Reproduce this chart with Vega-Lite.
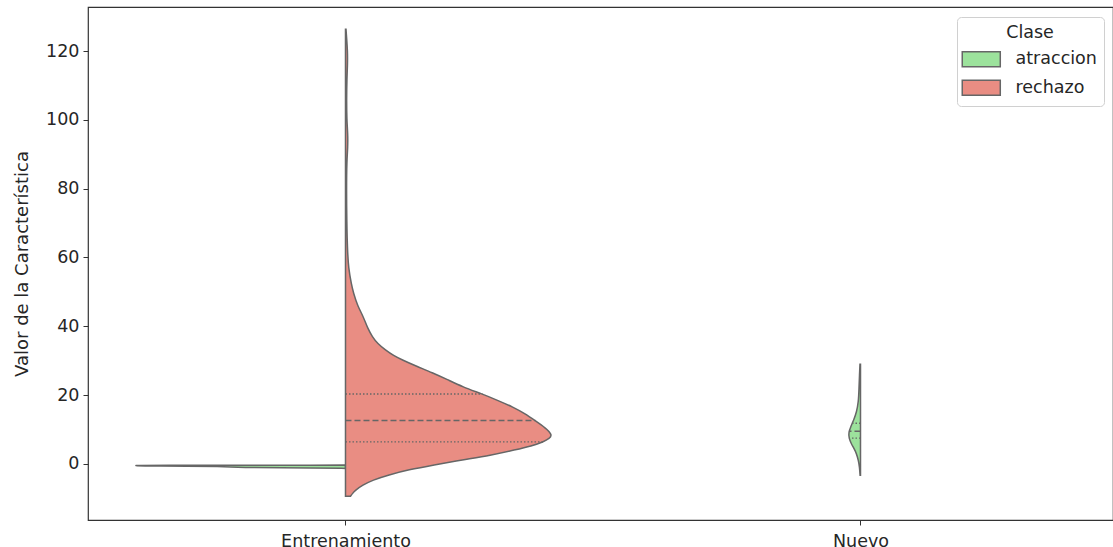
{
  "$schema": "https://vega.github.io/schema/vega-lite/v6.json",
  "autosize": {"type": "none"},
  "padding": {"left": 88, "top": 7, "right": 0, "bottom": 27},
  "width": 1025,
  "height": 513,
  "background": "white",
  "config": {
    "font": "DejaVu Sans",
    "view": {"stroke": "#333333", "strokeWidth": 1.2},
    "axis": {"labelFont": "DejaVu Sans", "titleFont": "DejaVu Sans", "labelColor": "#262626", "titleColor": "#262626", "tickColor": "#333333", "grid": false, "domain": false}
  },
  "datasets": {
    "violin": [
      {"grupo": "Entrenamiento", "clase": "atraccion", "valor": -1.3, "densidad": 0.0},
      {"grupo": "Entrenamiento", "clase": "atraccion", "valor": -1.2, "densidad": 0.05},
      {"grupo": "Entrenamiento", "clase": "atraccion", "valor": -1.05, "densidad": 0.223},
      {"grupo": "Entrenamiento", "clase": "atraccion", "valor": -0.75, "densidad": 0.223},
      {"grupo": "Entrenamiento", "clase": "atraccion", "valor": -0.6, "densidad": 0.38},
      {"grupo": "Entrenamiento", "clase": "atraccion", "valor": -0.5, "densidad": 0.41},
      {"grupo": "Entrenamiento", "clase": "atraccion", "valor": -0.42, "densidad": 0.41},
      {"grupo": "Entrenamiento", "clase": "atraccion", "valor": -0.35, "densidad": 0.0},
      {"grupo": "Entrenamiento", "clase": "rechazo", "valor": -9.4, "densidad": 0.0097},
      {"grupo": "Entrenamiento", "clase": "rechazo", "valor": -8.6, "densidad": 0.0136},
      {"grupo": "Entrenamiento", "clase": "rechazo", "valor": -7.6, "densidad": 0.0194},
      {"grupo": "Entrenamiento", "clase": "rechazo", "valor": -6.2, "densidad": 0.033},
      {"grupo": "Entrenamiento", "clase": "rechazo", "valor": -4.7, "densidad": 0.0524},
      {"grupo": "Entrenamiento", "clase": "rechazo", "valor": -3.2, "densidad": 0.0835},
      {"grupo": "Entrenamiento", "clase": "rechazo", "valor": -1.7, "densidad": 0.1223},
      {"grupo": "Entrenamiento", "clase": "rechazo", "valor": -0.3, "densidad": 0.1709},
      {"grupo": "Entrenamiento", "clase": "rechazo", "valor": 1.2, "densidad": 0.2272},
      {"grupo": "Entrenamiento", "clase": "rechazo", "valor": 2.5, "densidad": 0.2816},
      {"grupo": "Entrenamiento", "clase": "rechazo", "valor": 4.1, "densidad": 0.3301},
      {"grupo": "Entrenamiento", "clase": "rechazo", "valor": 5.2, "densidad": 0.3612},
      {"grupo": "Entrenamiento", "clase": "rechazo", "valor": 6.4, "densidad": 0.3845},
      {"grupo": "Entrenamiento", "clase": "rechazo", "valor": 7.4, "densidad": 0.3961},
      {"grupo": "Entrenamiento", "clase": "rechazo", "valor": 8.4, "densidad": 0.4019},
      {"grupo": "Entrenamiento", "clase": "rechazo", "valor": 10.5, "densidad": 0.3883},
      {"grupo": "Entrenamiento", "clase": "rechazo", "valor": 12.5, "densidad": 0.3689},
      {"grupo": "Entrenamiento", "clase": "rechazo", "valor": 14.5, "densidad": 0.3495},
      {"grupo": "Entrenamiento", "clase": "rechazo", "valor": 16.6, "densidad": 0.3243},
      {"grupo": "Entrenamiento", "clase": "rechazo", "valor": 18.5, "densidad": 0.2951},
      {"grupo": "Entrenamiento", "clase": "rechazo", "valor": 20.3, "densidad": 0.266},
      {"grupo": "Entrenamiento", "clase": "rechazo", "valor": 22.4, "densidad": 0.2272},
      {"grupo": "Entrenamiento", "clase": "rechazo", "valor": 24.5, "densidad": 0.198},
      {"grupo": "Entrenamiento", "clase": "rechazo", "valor": 26.5, "densidad": 0.1689},
      {"grupo": "Entrenamiento", "clase": "rechazo", "valor": 28.5, "densidad": 0.1359},
      {"grupo": "Entrenamiento", "clase": "rechazo", "valor": 30.2, "densidad": 0.1107},
      {"grupo": "Entrenamiento", "clase": "rechazo", "valor": 31.5, "densidad": 0.0932},
      {"grupo": "Entrenamiento", "clase": "rechazo", "valor": 33.1, "densidad": 0.0777},
      {"grupo": "Entrenamiento", "clase": "rechazo", "valor": 35.0, "densidad": 0.0621},
      {"grupo": "Entrenamiento", "clase": "rechazo", "valor": 36.9, "densidad": 0.0524},
      {"grupo": "Entrenamiento", "clase": "rechazo", "valor": 39.5, "densidad": 0.0427},
      {"grupo": "Entrenamiento", "clase": "rechazo", "valor": 42.7, "densidad": 0.035},
      {"grupo": "Entrenamiento", "clase": "rechazo", "valor": 46.0, "densidad": 0.0233},
      {"grupo": "Entrenamiento", "clase": "rechazo", "valor": 49.7, "densidad": 0.0155},
      {"grupo": "Entrenamiento", "clase": "rechazo", "valor": 52.0, "densidad": 0.0117},
      {"grupo": "Entrenamiento", "clase": "rechazo", "valor": 57.0, "densidad": 0.0058},
      {"grupo": "Entrenamiento", "clase": "rechazo", "valor": 62.0, "densidad": 0.0039},
      {"grupo": "Entrenamiento", "clase": "rechazo", "valor": 70.0, "densidad": 0.0025},
      {"grupo": "Entrenamiento", "clase": "rechazo", "valor": 80.0, "densidad": 0.0019},
      {"grupo": "Entrenamiento", "clase": "rechazo", "valor": 88.0, "densidad": 0.0025},
      {"grupo": "Entrenamiento", "clase": "rechazo", "valor": 92.0, "densidad": 0.0045},
      {"grupo": "Entrenamiento", "clase": "rechazo", "valor": 96.0, "densidad": 0.0045},
      {"grupo": "Entrenamiento", "clase": "rechazo", "valor": 100.0, "densidad": 0.0025},
      {"grupo": "Entrenamiento", "clase": "rechazo", "valor": 106.0, "densidad": 0.0021},
      {"grupo": "Entrenamiento", "clase": "rechazo", "valor": 112.0, "densidad": 0.0027},
      {"grupo": "Entrenamiento", "clase": "rechazo", "valor": 116.0, "densidad": 0.004},
      {"grupo": "Entrenamiento", "clase": "rechazo", "valor": 120.0, "densidad": 0.004},
      {"grupo": "Entrenamiento", "clase": "rechazo", "valor": 124.0, "densidad": 0.0021},
      {"grupo": "Entrenamiento", "clase": "rechazo", "valor": 126.3, "densidad": 0.001},
      {"grupo": "Nuevo", "clase": "atraccion", "valor": -3.3, "densidad": 0.0008},
      {"grupo": "Nuevo", "clase": "atraccion", "valor": -1.0, "densidad": 0.0019},
      {"grupo": "Nuevo", "clase": "atraccion", "valor": 1.0, "densidad": 0.0039},
      {"grupo": "Nuevo", "clase": "atraccion", "valor": 3.0, "densidad": 0.0078},
      {"grupo": "Nuevo", "clase": "atraccion", "valor": 4.5, "densidad": 0.0126},
      {"grupo": "Nuevo", "clase": "atraccion", "valor": 6.0, "densidad": 0.0184},
      {"grupo": "Nuevo", "clase": "atraccion", "valor": 7.5, "densidad": 0.0223},
      {"grupo": "Nuevo", "clase": "atraccion", "valor": 9.0, "densidad": 0.0233},
      {"grupo": "Nuevo", "clase": "atraccion", "valor": 11.0, "densidad": 0.0184},
      {"grupo": "Nuevo", "clase": "atraccion", "valor": 13.0, "densidad": 0.0126},
      {"grupo": "Nuevo", "clase": "atraccion", "valor": 15.0, "densidad": 0.0078},
      {"grupo": "Nuevo", "clase": "atraccion", "valor": 18.0, "densidad": 0.0039},
      {"grupo": "Nuevo", "clase": "atraccion", "valor": 22.0, "densidad": 0.0029},
      {"grupo": "Nuevo", "clase": "atraccion", "valor": 26.0, "densidad": 0.0019},
      {"grupo": "Nuevo", "clase": "atraccion", "valor": 29.0, "densidad": 0.001}
    ],
    "cuartiles": [
      {"grupo": "Entrenamiento", "clase": "rechazo", "valor": 6.4, "densidad": 0.3845, "tipo": "cuartil"},
      {"grupo": "Entrenamiento", "clase": "rechazo", "valor": 12.6, "densidad": 0.3689, "tipo": "mediana"},
      {"grupo": "Entrenamiento", "clase": "rechazo", "valor": 20.3, "densidad": 0.266, "tipo": "cuartil"},
      {"grupo": "Nuevo", "clase": "atraccion", "valor": 7.5, "densidad": 0.0223, "tipo": "cuartil"},
      {"grupo": "Nuevo", "clase": "atraccion", "valor": 9.5, "densidad": 0.0225, "tipo": "mediana"},
      {"grupo": "Nuevo", "clase": "atraccion", "valor": 11.8, "densidad": 0.016, "tipo": "cuartil"}
    ]
  },
  "layer": [
    {
      "data": {"name": "violin"},
      "transform": [
        {"calculate": "datum.grupo == 'Entrenamiento' ? 0 : 1", "as": "pos"},
        {"calculate": "datum.clase == 'atraccion' ? datum.pos - datum.densidad : datum.pos + datum.densidad", "as": "borde"}
      ],
      "mark": {"type": "area", "orient": "horizontal", "interpolate": "basis", "stroke": "#666666", "strokeWidth": 1.5, "opacity": 1, "fillOpacity": 1},
      "encoding": {
        "y": {"field": "valor", "type": "quantitative", "scale": {"domain": [-16.3, 132.8], "nice": false, "zero": false},
          "axis": {"values": [0, 20, 40, 60, 80, 100, 120], "title": "Valor de la Característica", "labelFontSize": 17.5, "titleFontSize": 18, "titleFontWeight": "normal", "tickSize": 5, "labelPadding": 4, "titlePadding": 14}},
        "x": {"field": "borde", "type": "quantitative", "scale": {"domain": [-0.5, 1.4903], "nice": false, "zero": false},
          "axis": {"values": [0, 1], "labelExpr": "datum.value == 0 ? 'Entrenamiento' : 'Nuevo'", "title": null, "labelFontSize": 17.5, "tickSize": 5, "labelPadding": 7}},
        "x2": {"field": "pos"},
        "detail": {"field": "grupo"},
        "color": {"field": "clase", "type": "nominal",
          "scale": {"domain": ["atraccion", "rechazo"], "range": ["#9CE29C", "#E98D83"]},
          "legend": {"title": "Clase", "orient": "none", "legendX": 869, "legendY": 10,
            "symbolType": "M-1.4,-1H3.67V1H-1.4Z", "symbolSize": 225, "symbolStrokeColor": "#666666", "symbolStrokeWidth": 1.5, "symbolOpacity": 1,
            "labelFontSize": 17.5, "titleFontSize": 17.5, "titleFontWeight": "normal", "titleAnchor": "middle", "titleAlign": "center",
            "labelOffset": 34, "padding": 7, "rowPadding": 6.5, "titlePadding": 9,
            "fillColor": "white", "strokeColor": "#d0d0d0", "cornerRadius": 4, "labelColor": "#262626", "titleColor": "#262626"}}
      }
    },
    {
      "data": {"name": "cuartiles"},
      "transform": [
        {"calculate": "datum.grupo == 'Entrenamiento' ? 0 : 1", "as": "pos"},
        {"calculate": "datum.clase == 'atraccion' ? datum.pos - datum.densidad : datum.pos + datum.densidad", "as": "borde"}
      ],
      "mark": {"type": "rule", "color": "#666666", "strokeWidth": 1.4},
      "encoding": {
        "y": {"field": "valor", "type": "quantitative"},
        "x": {"field": "pos", "type": "quantitative"},
        "x2": {"field": "borde"},
        "strokeDash": {"field": "tipo", "type": "nominal", "scale": {"domain": ["mediana", "cuartil"], "range": [[6, 3], [1.5, 2]]}, "legend": null}
      }
    }
  ]
}
